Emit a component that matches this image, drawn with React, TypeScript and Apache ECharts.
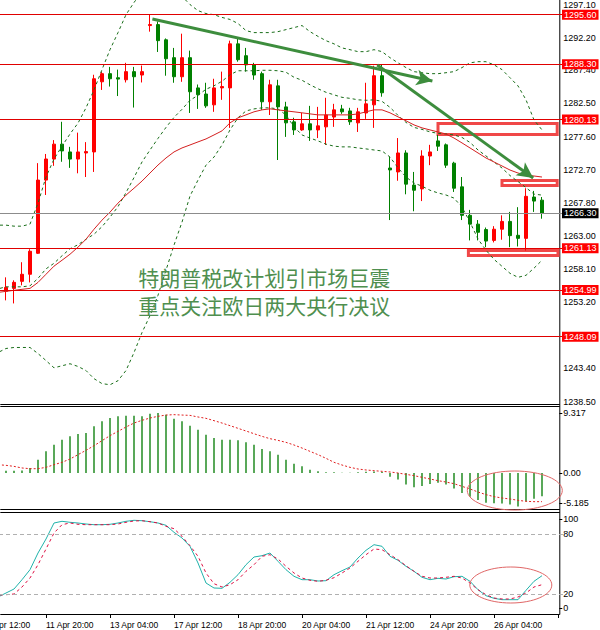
import React, { useEffect, useRef } from "react";
import * as echarts from "echarts";

// ---------- categories (4H bars) ----------
const categories = [
  "10 Apr 12:00","10 Apr 16:00","10 Apr 20:00","11 Apr 00:00","11 Apr 04:00","11 Apr 08:00","11 Apr 12:00","11 Apr 16:00","11 Apr 20:00",
  "12 Apr 00:00","12 Apr 04:00","12 Apr 08:00","12 Apr 12:00","12 Apr 16:00","12 Apr 20:00",
  "13 Apr 00:00","13 Apr 04:00","13 Apr 08:00","13 Apr 12:00","13 Apr 16:00","13 Apr 20:00",
  "17 Apr 00:00","17 Apr 04:00","17 Apr 08:00","17 Apr 12:00","17 Apr 16:00","17 Apr 20:00",
  "18 Apr 00:00","18 Apr 04:00","18 Apr 08:00","18 Apr 12:00","18 Apr 16:00","18 Apr 20:00",
  "19 Apr 00:00","19 Apr 04:00","19 Apr 08:00","19 Apr 12:00","19 Apr 16:00","19 Apr 20:00",
  "20 Apr 00:00","20 Apr 04:00","20 Apr 08:00","20 Apr 12:00","20 Apr 16:00","20 Apr 20:00",
  "21 Apr 00:00","21 Apr 04:00","21 Apr 08:00","21 Apr 12:00","21 Apr 16:00","21 Apr 20:00",
  "24 Apr 00:00","24 Apr 04:00","24 Apr 08:00","24 Apr 12:00","24 Apr 16:00","24 Apr 20:00",
  "25 Apr 00:00","25 Apr 04:00","25 Apr 08:00","25 Apr 12:00","25 Apr 16:00","25 Apr 20:00",
  "26 Apr 00:00","26 Apr 04:00","26 Apr 08:00","26 Apr 12:00","26 Apr 16:00","26 Apr 20:00",
  "27 Apr 00:00","27 Apr 04:00","27 Apr 08:00","27 Apr 12:00"
];

// ---------- candles ----------
const opens = [
  1253.5,1254.2,1254.0,1254.78,1255.22,1256.26,1257.3,1260.4,1271.2,1274.3,
  1276.5,1275.35,1274.3,1275.2,1275.35,1285.7,1286.9,1286.3,1286.0,1287.2,
  1286.7,1294.0,1294.14,1291.9,1289.26,1286.45,1289.26,1284.8,1283.9,1282.3,
  1284.8,1284.8,1291.3,1289.55,1288.2,1286.9,1282.75,1285.1,1282.0,1279.79,
  1278.6,1279.5,1278.6,1279.05,1280.5,1281.7,1281.4,1279.64,1281.1,1282.3,
  1286.6,1272.98,1272.4,1275.2,1270.46,1269.9,1274.75,1276.98,1276.4,1273.7,
  1270.2,1266.0,1264.7,1263.9,1262.3,1263.95,1265.1,1263.05,1262.6,1268.7,1268.24
];
const closes = [
  1254.2,1253.8,1254.9,1255.37,1256.11,1257.3,1260.7,1271.2,1274.31,1276.5,
  1275.5,1274.3,1275.35,1275.4,1286.15,1286.9,1286.15,1286.1,1287.2,1286.45,
  1287.2,1294.15,1291.77,1289.1,1286.45,1289.26,1284.23,1283.8,1282.15,1284.8,
  1285.0,1291.3,1288.96,1288.2,1286.7,1282.75,1285.26,1282.0,1279.64,1278.6,
  1279.5,1278.6,1279.2,1280.8,1281.56,1281.27,1279.8,1281.27,1282.45,1286.6,
  1284.08,1272.7,1275.2,1270.6,1269.7,1274.75,1275.35,1276.2,1273.4,1270.0,
  1266.0,1264.7,1263.5,1262.2,1263.95,1265.1,1263.0,1262.6,1268.8,1268.1,1266.3
];
const lows = [
  1252.8,1253.0,1253.5,1253.45,1253.0,1255.67,1256.1,1260.3,1269.0,1273.3,
  1273.9,1273.0,1272.2,1271.65,1272.4,1284.5,1285.0,1283.6,1285.6,1281.9,
  1285.6,1293.1,1290.1,1286.6,1285.56,1285.7,1281.1,1281.7,1281.86,1281.27,
  1283.04,1278.9,1288.67,1287.2,1286.0,1281.56,1280.8,1274.16,1277.57,1277.86,
  1278.46,1276.98,1277.4,1276.38,1279.05,1280.97,1279.34,1278.3,1280.23,1278.9,
  1283.5,1265.3,1271.1,1269.1,1266.6,1268.1,1273.4,1275.5,1273.0,1269.45,
  1265.3,1262.3,1262.3,1261.3,1262.0,1262.4,1261.3,1261.4,1260.8,1266.5,1265.5
];
const highs = [
  1254.8,1255.0,1255.3,1256.85,1256.41,1259.08,1261.0,1273.7,1275.05,1277.1,
  1279.8,1276.1,1278.2,1276.8,1286.74,1287.2,1287.9,1287.5,1288.5,1287.9,
  1288.1,1295.6,1294.6,1292.1,1290.7,1292.8,1290.3,1285.3,1285.56,1286.15,
  1287.2,1291.77,1292.2,1290.7,1288.5,1287.2,1286.0,1286.0,1282.75,1280.4,
  1281.1,1282.15,1282.0,1283.34,1282.45,1282.3,1281.86,1281.86,1285.56,1288.07,
  1288.3,1274.6,1277.4,1275.6,1272.4,1275.6,1276.4,1277.86,1276.6,1273.9,
  1271.65,1266.8,1265.3,1264.2,1264.4,1266.0,1266.5,1267.2,1270.0,1269.6,1268.7
];

// ---------- Bollinger bands and moving average ----------
const bbUpper = [
  1264.5,1264.5,1264.55,1264.55,1264.4,1264.4,1264.7,1267.8,1271.65,1274.3,
  1276.2,1278.0,1279.6,1281.86,1284.5,1287.5,1290.44,1292.96,1295.6,1297.4,
  1299.0,1300.06,1300.5,1300.06,1299.3,1298.3,1297.1,1296.2,1295.77,1295.6,
  1295.2,1294.9,1294.3,1293.25,1292.96,1292.96,1292.96,1293.1,1293.4,1293.7,
  1294.0,1293.1,1292.4,1291.77,1291.3,1290.7,1290.44,1290.15,1290.15,1290.44,
  1290.15,1289.26,1288.5,1287.8,1287.2,1287.04,1286.9,1286.9,1287.04,1287.2,
  1287.8,1288.5,1288.67,1288.67,1288.2,1287.5,1286.3,1285.1,1283.04,1280.08,1278.6
];
const bbMiddle = [
  1255.1,1255.1,1255.15,1255.45,1255.45,1255.45,1255.6,1256.7,1258.1,1258.92,
  1260.03,1261.07,1261.66,1262.47,1263.21,1264.32,1265.73,1267.28,1269.35,1271.57,
  1273.87,1275.64,1277.35,1278.97,1280.45,1281.64,1282.97,1283.71,1284.6,1285.11,
  1285.78,1286.74,1287.33,1287.33,1287.33,1287.4,1287.4,1287.33,1287.11,1286.37,
  1285.93,1285.26,1284.67,1284.15,1283.78,1283.41,1283.26,1283.04,1282.97,1283.04,
  1282.82,1281.93,1280.75,1279.71,1278.97,1278.68,1278.31,1278.09,1278.01,1277.86,
  1277.49,1276.75,1275.64,1274.76,1273.87,1272.98,1271.87,1270.98,1270.09,1269.13,1268.98
];
const bbLower = [
  1245.6,1245.7,1245.75,1246.35,1246.5,1246.5,1246.5,1245.6,1244.57,1243.5,
  1243.8,1244.1,1243.7,1243.1,1241.9,1241.17,1241.0,1241.6,1243.1,1245.75,
  1248.7,1251.2,1254.2,1257.9,1261.6,1265.0,1268.84,1271.2,1273.4,1274.6,
  1276.38,1278.6,1280.4,1281.4,1281.7,1281.86,1281.86,1281.7,1280.8,1279.05,
  1277.86,1277.4,1276.98,1276.5,1276.2,1276.1,1276.1,1275.94,1275.8,1275.64,
  1275.5,1274.6,1273.0,1271.65,1270.76,1270.3,1269.7,1269.3,1269.0,1268.54,
  1267.2,1265.0,1262.5,1260.85,1259.5,1258.48,1257.44,1256.85,1257.15,1258.2,1259.37
];
const maRed = [
  1254.4,1254.5,1254.63,1254.78,1254.93,1255.08,1255.22,1256.1,1257.3,1258.5,
  1259.37,1260.26,1261.3,1262.47,1263.95,1265.29,1266.47,1267.8,1268.98,1270.0,
  1271.05,1272.24,1273.42,1274.46,1275.35,1275.94,1276.38,1276.83,1277.27,1277.86,
  1278.46,1279.64,1280.38,1280.82,1281.27,1281.56,1281.71,1281.56,1281.41,1281.27,
  1281.12,1280.97,1280.82,1280.82,1280.82,1280.82,1280.82,1280.97,1281.27,1281.56,
  1281.56,1281.12,1280.53,1279.94,1279.34,1278.9,1278.6,1278.3,1278.0,1277.4,
  1276.68,1275.94,1275.2,1274.46,1273.87,1273.28,1272.68,1272.24,1271.94,1271.8,1271.65
];

// ---------- MACD ----------
const macdMain = [
  0.2,0.25,0.3,0.36,0.36,0.4,0.78,2.07,3.36,4.4,
  5.18,5.69,6.06,6.21,7.25,8.02,8.54,8.8,8.9,8.9,
  8.8,9.2,9.317,9.06,8.44,8.02,7.35,6.73,5.95,5.43,
  5.18,5.18,5.07,4.76,4.4,3.73,3.36,2.85,2.07,1.45,
  1.04,0.52,0.26,0.1,0.1,0.05,0.05,0.1,0.2,0.25,
  0.15,-0.6,-1.0,-1.8,-2.2,-2.0,-1.7,-1.5,-1.8,-2.4,
  -3.1,-3.7,-4.2,-4.6,-4.7,-4.75,-4.9,-5.185,-4.4,-4.0,-3.6
];
const macdSignal = [
  1.5,1.4,1.29,1.19,1.03,0.78,0.67,0.67,0.88,1.29,
  1.66,2.17,2.85,3.52,4.24,5.02,5.8,6.47,7.14,7.76,
  8.18,8.54,8.8,9.0,9.06,9.0,8.95,8.7,8.49,8.13,
  7.76,7.35,6.94,6.52,6.1,5.69,5.33,5.07,4.76,4.35,
  3.88,3.36,2.85,2.28,1.66,1.24,0.88,0.62,0.47,0.36,
  0.26,0.16,0.0,-0.21,-0.41,-0.67,-0.93,-1.19,-1.4,-1.66,
  -2.07,-2.48,-2.95,-3.36,-3.67,-3.88,-4.04,-4.24,-4.4,-4.45,-4.45
];

// ---------- Stochastic ----------
const stochMain = [
  15,16,17,21,25,34.3,44.3,61,75,91,
  92.7,91.7,91,90,89.3,89.3,89.7,91,92.7,93.7,
  93.3,92.3,91,88.7,81.7,76,67.7,51,31,26,
  25.7,31.7,39.3,49.3,57,58.3,61,52.7,44.3,37.7,
  34.3,34.3,33,33.3,39.3,43.3,47,56,63.7,69.3,
  67.7,57.7,53.7,47.7,42.7,36.7,34.3,35.7,35,37.3,
  37.7,32.7,24.3,18.3,15.7,14.3,14.3,14.3,23.7,32.7,38.3
];
const stochSignal = [
  19,19,19,19.3,20,27,36,49.3,65,81,
  89.3,91,89.7,89.3,89.3,89.3,89.3,90,91.7,93,
  93.3,92.3,91,87.7,85.3,77.7,68.3,57.7,41,30.3,
  27,29.3,34.3,42.7,49.3,57.7,59.3,55,47.7,41,
  36,33.7,32.7,33.7,36.3,41,46,52.7,59.3,65,
  64.3,59.3,54.3,48.3,42.7,37.7,36,36,36.7,37.7,
  36,31,24.3,19.3,16,15,15,17,21,27,29.3
];

// ---------- ticks, levels, annotations ----------
const priceTickLabels = ["1297.10","1292.20","1287.40","1282.50","1277.60","1272.70","1267.80","1263.00","1258.10","1253.20","1243.40","1238.50"];
const priceLevels = [1295.6, 1288.3, 1280.13, 1261.13, 1254.99, 1248.09];
const currentPrice = 1266.3;
const macdTickValues = [9.317, 0, -4.7];
const macdTickLabels = ["9.317", "0.00", "-5.185"];
const stochTickValues = [95, 80, 20, 6];
const stochTickLabels = ["100", "80", "20", "0"];
const stochLevels = [20, 80];
const headline = ["特朗普税改计划引市场巨震", "重点关注欧日两大央行决议"];
// boxes and arrows in (bar index, price)
const boxes = [
  { x0: 57.0, x1: 71.9, y0: 1277.92, y1: 1279.55 },
  { x0: 65.0, x1: 71.9, y0: 1270.4, y1: 1271.13 },
  { x0: 60.8, x1: 72.0, y0: 1260.07, y1: 1260.8 },
];
const arrows = [
  { x0: 21.3, y0: 1294.97, x1: 56.3, y1: 1285.82 },
  { x0: 49.4, y0: 1288.18, x1: 68.9, y1: 1271.5 },
];

const nearestLabel = (v: number, vals: number[], labels: string[]) => {
  let best = 0;
  for (let i = 1; i < vals.length; i++) if (Math.abs(vals[i] - v) < Math.abs(vals[best] - v)) best = i;
  return labels[best];
};

// the chart canvas starts left of the visible page so that the first bars are cut off, as in the reference
const SHIFT = 22.3;

export default function App() {
  const ref = useRef<HTMLDivElement>(null);
  useEffect(() => {
    const el = ref.current as HTMLDivElement;
    const chart = echarts.init(el, undefined, { renderer: "svg" });
    const GW = 584;
    const font = "Liberation Sans";
    const priceTickValues = priceTickLabels.map(Number);
    const X = (px: number) => px + SHIFT;
    const hline = (y: number) => ({ type: "line", silent: true, shape: { x1: X(0), y1: y, x2: X(559.5), y2: y }, style: { stroke: "#000", lineWidth: 1 } });

    const option: any = {
      animation: false,
      backgroundColor: "#ffffff",
      grid: [
        { left: 0, top: 0, width: GW, height: 404 },
        { left: 0, top: 407, width: GW, height: 102 },
        { left: 0, top: 513, width: GW, height: 101 },
      ],
      xAxis: [
        { type: "category", gridIndex: 0, data: categories, boundaryGap: true, show: false },
        { type: "category", gridIndex: 1, data: categories, boundaryGap: true, show: false },
        {
          type: "category", gridIndex: 2, data: categories, boundaryGap: true,
          axisLine: { show: false },
          axisTick: { show: true, interval: 7, alignWithLabel: true, length: 4, lineStyle: { color: "#000" } },
          axisLabel: {
            interval: 7, align: "left", fontSize: 8.5, color: "#000", margin: 6, fontFamily: font,
            formatter: (v: string, i: number) => (i > 70 ? "" : v),
          },
        },
        { type: "value", gridIndex: 0, min: -0.5, max: 72.5, show: false },
      ],
      yAxis: [
        {
          type: "value", gridIndex: 0, position: "right", offset: -2.7, min: 1238.16, max: 1297.77,
          splitLine: { show: false }, axisLine: { show: false },
          axisTick: { show: true, length: 3, customValues: priceTickValues, lineStyle: { color: "#000" } },
          axisLabel: { customValues: priceTickValues, formatter: (v: number) => v.toFixed(2), fontSize: 9, color: "#000", margin: 4, fontFamily: font },
        },
        {
          type: "value", gridIndex: 1, position: "right", offset: -2.7, min: -5.59, max: 10.25,
          splitLine: { show: false }, axisLine: { show: false },
          axisTick: { show: true, length: 3, customValues: macdTickValues, lineStyle: { color: "#000" } },
          axisLabel: { customValues: macdTickValues, formatter: (v: number) => nearestLabel(v, macdTickValues, macdTickLabels), fontSize: 9, color: "#000", margin: 4, fontFamily: font },
        },
        {
          type: "value", gridIndex: 2, position: "right", offset: -2.7, min: 0, max: 101,
          splitLine: { show: false }, axisLine: { show: false },
          axisTick: { show: true, length: 3, customValues: stochTickValues, lineStyle: { color: "#000" } },
          axisLabel: { customValues: stochTickValues, formatter: (v: number) => nearestLabel(v, stochTickValues, stochTickLabels), fontSize: 9, color: "#000", margin: 4, fontFamily: font },
        },
      ],
      series: [
        {
          type: "candlestick", xAxisIndex: 0, yAxisIndex: 0, barWidth: 4, silent: true,
          data: opens.map((o, i) => [o, closes[i], lows[i], highs[i]]),
          itemStyle: { color: "#ff0000", color0: "#008000", borderColor: "#ff0000", borderColor0: "#008000", borderWidth: 1 },
          markLine: {
            silent: true, symbol: ["none", "none"],
            lineStyle: { color: "#e00000", width: 1, type: "solid" },
            label: {
              position: "end", distance: 0, formatter: (p: any) => Number(p.value).toFixed(2),
              color: "#fff", backgroundColor: "#ff0000", fontSize: 9, padding: [1, 2, 0, 2], fontFamily: font,
            },
            data: [
              ...priceLevels.map((v) => ({ yAxis: v })),
              { yAxis: currentPrice, lineStyle: { color: "#8c8c8c" }, label: { backgroundColor: "#000000" } },
            ],
          },
        },
        { type: "line", xAxisIndex: 0, yAxisIndex: 0, data: bbUpper, symbol: "none", silent: true, lineStyle: { color: "#1a6e1a", width: 1, type: [3, 3] } },
        { type: "line", xAxisIndex: 0, yAxisIndex: 0, data: bbMiddle, symbol: "none", silent: true, lineStyle: { color: "#1a6e1a", width: 1, type: [3, 3] } },
        { type: "line", xAxisIndex: 0, yAxisIndex: 0, data: bbLower, symbol: "none", silent: true, lineStyle: { color: "#1a6e1a", width: 1, type: [3, 3] } },
        { type: "line", xAxisIndex: 0, yAxisIndex: 0, data: maRed, symbol: "none", silent: true, lineStyle: { color: "#d42020", width: 1 } },
        {
          type: "line", xAxisIndex: 3, yAxisIndex: 0, data: [[0, 1260]], symbol: "none", silent: true,
          lineStyle: { opacity: 0 }, z: 5,
          markArea: {
            silent: true,
            itemStyle: { color: "rgba(0,0,0,0)", borderColor: "#f04848", borderWidth: 3 },
            data: boxes.map((b) => [{ coord: [b.x0, b.y1] }, { coord: [b.x1, b.y0] }]),
          },
          markLine: {
            silent: true, symbol: ["none", "arrow"], symbolSize: [12, 16],
            lineStyle: { color: "#3d8d3d", width: 3, type: "solid" },
            label: { show: false },
            data: arrows.map((a) => [{ coord: [a.x0, a.y0] }, { coord: [a.x1, a.y1] }]),
          },
        },
        { type: "bar", xAxisIndex: 1, yAxisIndex: 1, data: macdMain, barWidth: 1.5, silent: true, itemStyle: { color: "#228b22" } },
        { type: "line", xAxisIndex: 1, yAxisIndex: 1, data: macdSignal, symbol: "none", silent: true, lineStyle: { color: "#e02020", width: 1, type: [2, 2] } },
        {
          type: "line", xAxisIndex: 2, yAxisIndex: 2, data: stochMain, symbol: "none", silent: true,
          lineStyle: { color: "#20b2aa", width: 1 },
          markLine: {
            silent: true, symbol: ["none", "none"], label: { show: false },
            lineStyle: { color: "#b0b0b0", width: 1, type: [4, 3] },
            data: stochLevels.map((v) => ({ yAxis: v })),
          },
        },
        { type: "line", xAxisIndex: 2, yAxisIndex: 2, data: stochSignal, symbol: "none", silent: true, lineStyle: { color: "#dd1144", width: 1, type: [3, 3] } },
      ],
      graphic: [
        hline(404.5), hline(406.5), hline(509.5), hline(512.5), hline(614.5),
        { type: "line", silent: true, shape: { x1: X(559.5), y1: 0, x2: X(559.5), y2: 614.5 }, style: { stroke: "#000", lineWidth: 1 } },
        {
          type: "text", silent: true, x: X(138), y: 266, z: 10,
          style: { text: headline[0], fill: "#4f8f4f", fontSize: 21, fontFamily: "Noto Sans CJK SC", align: "left", verticalAlign: "top" },
        },
        {
          type: "text", silent: true, x: X(138), y: 294, z: 10,
          style: { text: headline[1], fill: "#4f8f4f", fontSize: 21, fontFamily: "Noto Sans CJK SC", align: "left", verticalAlign: "top" },
        },
        { type: "ellipse", silent: true, z: 10, shape: { cx: X(514.5), cy: 490.5, rx: 47.5, ry: 19.5 }, style: { fill: "none", stroke: "#e06666", lineWidth: 1 } },
        { type: "ellipse", silent: true, z: 10, shape: { cx: X(510.5), cy: 585, rx: 41, ry: 18 }, style: { fill: "none", stroke: "#e06666", lineWidth: 1 } },
      ],
    };
    chart.setOption(option);
    return () => chart.dispose();
  }, []);
  return (
    <div style={{ position: "fixed", left: 0, top: 0, width: 600, height: 630, overflow: "hidden", background: "#fff" }}>
      <div ref={ref} style={{ position: "absolute", left: -SHIFT, top: 0, width: 600 + SHIFT, height: 630 }} />
    </div>
  );
}
